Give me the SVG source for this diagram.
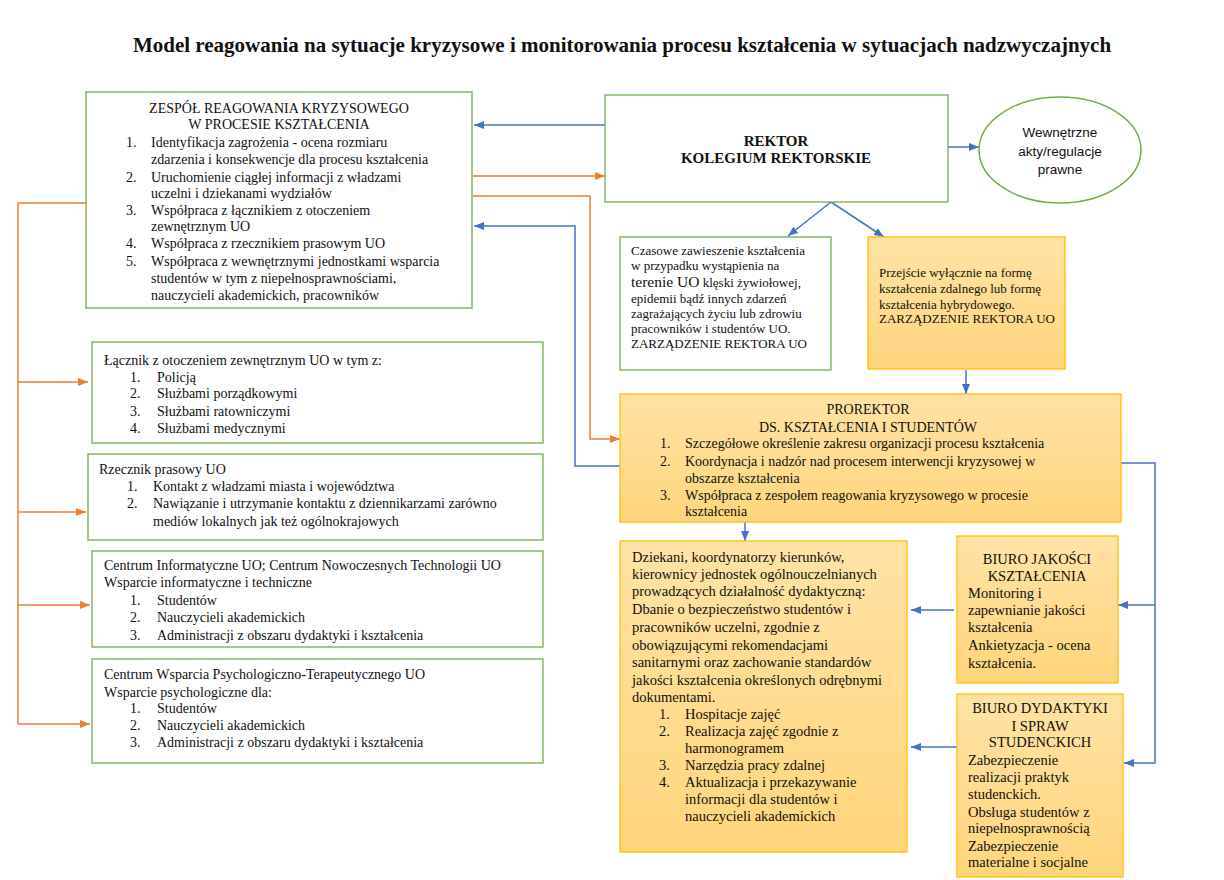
<svg xmlns="http://www.w3.org/2000/svg" width="1224" height="880" viewBox="0 0 1224 880">
<style>
text{font-family:"Liberation Serif","Times New Roman",serif;font-size:14px;fill:#111}
.t{font-size:21px;font-weight:bold}
.b{font-weight:bold;font-size:15px}
.s13{font-size:13px}
.s145{font-size:14.5px}
.sans{font-family:"Liberation Sans",Arial,sans-serif;font-size:13.5px}
.c{text-anchor:middle}
.g{fill:#fff;stroke:#70AD47;stroke-width:1.3}
.o{fill:url(#og);stroke:#FFC000;stroke-width:1.3}
.bl{fill:none;stroke:#4472C4;stroke-width:1.5}
.or{fill:none;stroke:#ED7D31;stroke-width:1.5}
</style>
<defs>
<linearGradient id="og" x1="0" y1="0" x2="0" y2="1">
<stop offset="0" stop-color="#FFE2A6"/>
<stop offset="1" stop-color="#FFD57C"/>
</linearGradient>
<marker id="ab" markerUnits="userSpaceOnUse" markerWidth="10" markerHeight="8" refX="10" refY="4" orient="auto"><path d="M0,0 L10,4 L0,8 z" fill="#4472C4"/></marker>
<marker id="ao" markerUnits="userSpaceOnUse" markerWidth="10" markerHeight="8" refX="10" refY="4" orient="auto"><path d="M0,0 L10,4 L0,8 z" fill="#ED7D31"/></marker>
</defs>
<rect width="1224" height="880" fill="#fff"/>
<text class="t c" x="622" y="52">Model reagowania na sytuacje kryzysowe i monitorowania procesu kształcenia w sytuacjach nadzwyczajnych</text>

<g id="connectors">
<path class="bl" d="M605,125 H474" marker-end="url(#ab)"/>
<path class="bl" d="M948,147 H979" marker-end="url(#ab)"/>
<path class="bl" d="M831,202 L788,236" marker-end="url(#ab)"/>
<path class="bl" d="M831,202 L884,237" marker-end="url(#ab)"/>
<path class="bl" d="M966,370 V394" marker-end="url(#ab)"/>
<path class="bl" d="M745,522 V541" marker-end="url(#ab)"/>
<path class="bl" d="M620,466 H575 V226 H474" marker-end="url(#ab)"/>
<path class="bl" d="M1121,463 H1155 V763 H1124" marker-end="url(#ab)"/>
<path class="bl" d="M1155,605 H1118" marker-end="url(#ab)"/>
<path class="bl" d="M954,610 H911" marker-end="url(#ab)"/>
<path class="bl" d="M959,747 H911" marker-end="url(#ab)"/>
<path class="or" d="M473,176 H605" marker-end="url(#ao)"/>
<path class="or" d="M473,196 H590 V439 H620" marker-end="url(#ao)"/>
<path class="or" d="M86,203 H18 V724"/>
<path class="or" d="M18,382 H88" marker-end="url(#ao)"/>
<path class="or" d="M18,512 H86" marker-end="url(#ao)"/>
<path class="or" d="M18,605 H90" marker-end="url(#ao)"/>
<path class="or" d="M18,724 H90" marker-end="url(#ao)"/>
</g>

<g id="zespol">
<rect class="g" x="86" y="92" width="386" height="216"/>
<text class="c" x="279" y="113">ZESPÓŁ REAGOWANIA KRYZYSOWEGO</text>
<text class="c" x="279" y="129">W PROCESIE KSZTAŁCENIA</text>
<text x="126" y="147">1.</text><text x="151" y="147">Identyfikacja zagrożenia - ocena rozmiaru</text>
<text x="151" y="164">zdarzenia i konsekwencje dla procesu kształcenia</text>
<text x="126" y="182">2.</text><text x="151" y="182">Uruchomienie ciągłej informacji z władzami</text>
<text x="151" y="198">uczelni i dziekanami wydziałów</text>
<text x="126" y="215">3.</text><text x="151" y="215">Współpraca z łącznikiem z otoczeniem</text>
<text x="151" y="231">zewnętrznym UO</text>
<text x="126" y="248">4.</text><text x="151" y="248">Współpraca z rzecznikiem prasowym UO</text>
<text x="126" y="266">5.</text><text x="151" y="266">Współpraca z wewnętrznymi jednostkami wsparcia</text>
<text x="151" y="283">studentów w tym z niepełnosprawnościami,</text>
<text x="151" y="300">nauczycieli akademickich, pracowników</text>
</g>

<g id="rektor">
<rect class="g" x="605" y="95" width="343" height="107"/>
<text class="b c" x="776" y="146">REKTOR</text>
<text class="b c" x="776" y="163">KOLEGIUM REKTORSKIE</text>
</g>

<g id="akty">
<ellipse cx="1060" cy="150" rx="81" ry="53" fill="#fff" stroke="#70AD47" stroke-width="1.5"/>
<text class="sans c" x="1060" y="137">Wewnętrzne</text>
<text class="sans c" x="1060" y="156">akty/regulacje</text>
<text class="sans c" x="1060" y="174">prawne</text>
</g>

<g id="zawieszenie">
<rect class="g" x="620" y="237" width="211" height="133"/>
<text class="s13" x="631" y="255">Czasowe zawieszenie kształcenia</text>
<text class="s13" x="631" y="270">w przypadku wystąpienia na</text>
<text class="s13" x="631" y="287"><tspan font-size="15.5">terenie UO</tspan> klęski żywiołowej,</text>
<text class="s13" x="631" y="303">epidemii bądź  innych zdarzeń</text>
<text class="s13" x="631" y="318">zagrażających życiu lub zdrowiu</text>
<text class="s13" x="631" y="333">pracowników i studentów UO.</text>
<text class="s13" x="631" y="348">ZARZĄDZENIE REKTORA UO</text>
</g>

<g id="przejscie">
<rect class="o" x="868" y="237" width="197" height="132"/>
<text class="s13" x="879" y="277">Przejście wyłącznie na formę</text>
<text class="s13" x="879" y="293">kształcenia zdalnego lub formę</text>
<text class="s13" x="879" y="309">kształcenia hybrydowego.</text>
<text class="s13" x="879" y="323">ZARZĄDZENIE REKTORA UO</text>
</g>

<g id="prorektor">
<rect class="o" x="620" y="394" width="501" height="128"/>
<text class="c" x="868" y="414">PROREKTOR</text>
<text class="c" x="868" y="432">DS. KSZTAŁCENIA I STUDENTÓW</text>
<text x="660" y="448">1.</text><text x="685" y="448">Szczegółowe określenie zakresu organizacji procesu kształcenia</text>
<text x="660" y="466">2.</text><text x="685" y="466">Koordynacja i nadzór nad procesem interwencji kryzysowej w</text>
<text x="685" y="483">obszarze kształcenia</text>
<text x="660" y="500">3.</text><text x="685" y="500">Współpraca z zespołem reagowania kryzysowego w procesie</text>
<text x="685" y="516">kształcenia</text>
</g>

<g id="dziekani">
<rect class="o" x="620" y="541" width="287" height="311"/>
<text class="s145" x="632" y="562">Dziekani, koordynatorzy kierunków,</text>
<text class="s145" x="632" y="579">kierownicy jednostek ogólnouczelnianych</text>
<text class="s145" x="632" y="596">prowadzących działalność dydaktyczną:</text>
<text class="s145" x="632" y="614">Dbanie o bezpieczeństwo studentów i</text>
<text class="s145" x="632" y="632">pracowników uczelni, zgodnie z</text>
<text class="s145" x="632" y="650">obowiązującymi rekomendacjami</text>
<text class="s145" x="632" y="667">sanitarnymi oraz zachowanie standardów</text>
<text class="s145" x="632" y="685">jakości kształcenia określonych odrębnymi</text>
<text class="s145" x="632" y="702">dokumentami.</text>
<text class="s145" x="659" y="719">1.</text><text class="s145" x="685" y="719">Hospitacje zajęć</text>
<text class="s145" x="659" y="736">2.</text><text class="s145" x="685" y="736">Realizacja zajęć zgodnie z</text>
<text class="s145" x="685" y="753">harmonogramem</text>
<text class="s145" x="659" y="770">3.</text><text class="s145" x="685" y="770">Narzędzia pracy zdalnej</text>
<text class="s145" x="659" y="787">4.</text><text class="s145" x="685" y="787">Aktualizacja i przekazywanie</text>
<text class="s145" x="685" y="804">informacji dla studentów i</text>
<text class="s145" x="685" y="821">nauczycieli akademickich</text>
</g>

<g id="biuro-jakosci">
<rect class="o" x="957" y="536" width="161" height="147"/>
<text class="s145 c" x="1037" y="564">BIURO JAKOŚCI</text>
<text class="s145 c" x="1037" y="581">KSZTAŁCENIA</text>
<text class="s145" x="968" y="598">Monitoring i</text>
<text class="s145" x="968" y="615">zapewnianie jakości</text>
<text class="s145" x="968" y="632">kształcenia</text>
<text class="s145" x="968" y="650">Ankietyzacja - ocena</text>
<text class="s145" x="968" y="668">kształcenia.</text>
</g>

<g id="biuro-dydaktyki">
<rect class="o" x="957" y="694" width="166" height="183"/>
<text class="s145 c" x="1040" y="713">BIURO DYDAKTYKI</text>
<text class="s145 c" x="1040" y="731">I SPRAW</text>
<text class="s145 c" x="1040" y="747">STUDENCKICH</text>
<text class="s145" x="968" y="765">Zabezpieczenie</text>
<text class="s145" x="968" y="782">realizacji praktyk</text>
<text class="s145" x="968" y="799">studenckich.</text>
<text class="s145" x="968" y="817">Obsługa studentów z</text>
<text class="s145" x="968" y="833">niepełnosprawnością</text>
<text class="s145" x="968" y="851">Zabezpieczenie</text>
<text class="s145" x="968" y="867">materialne i socjalne</text>
</g>

<g id="lacznik">
<rect class="g" x="92" y="342" width="451" height="101"/>
<text x="104" y="365">Łącznik z otoczeniem zewnętrznym UO w tym z:</text>
<text x="130" y="382">1.</text><text x="157" y="382">Policją</text>
<text x="130" y="398">2.</text><text x="157" y="398">Służbami porządkowymi</text>
<text x="130" y="416">3.</text><text x="157" y="416">Służbami ratowniczymi</text>
<text x="130" y="433">4.</text><text x="157" y="433">Służbami medycznymi</text>
</g>

<g id="rzecznik">
<rect class="g" x="88" y="454" width="455" height="86"/>
<text x="99" y="474">Rzecznik prasowy UO</text>
<text x="127" y="491">1.</text><text x="153" y="491">Kontakt z władzami miasta i województwa</text>
<text x="127" y="508">2.</text><text x="153" y="508">Nawiązanie i utrzymanie kontaktu z dziennikarzami zarówno</text>
<text x="153" y="526">mediów lokalnych jak też ogólnokrajowych</text>
</g>

<g id="centrum-informatyczne">
<rect class="g" x="92" y="551" width="451" height="96"/>
<text x="104" y="570">Centrum Informatyczne UO; Centrum Nowoczesnych Technologii UO</text>
<text x="104" y="587">Wsparcie informatyczne i techniczne</text>
<text x="130" y="605">1.</text><text x="157" y="605">Studentów</text>
<text x="130" y="622">2.</text><text x="157" y="622">Nauczycieli akademickich</text>
<text x="130" y="640">3.</text><text x="157" y="640">Administracji z obszaru dydaktyki i kształcenia</text>
</g>

<g id="centrum-wsparcia">
<rect class="g" x="92" y="659" width="451" height="104"/>
<text x="104" y="679">Centrum Wsparcia Psychologiczno-Terapeutycznego UO</text>
<text x="104" y="697">Wsparcie psychologiczne dla:</text>
<text x="130" y="713">1.</text><text x="157" y="713">Studentów</text>
<text x="130" y="730">2.</text><text x="157" y="730">Nauczycieli akademickich</text>
<text x="130" y="747">3.</text><text x="157" y="747">Administracji z obszaru dydaktyki i kształcenia</text>
</g>
</svg>
